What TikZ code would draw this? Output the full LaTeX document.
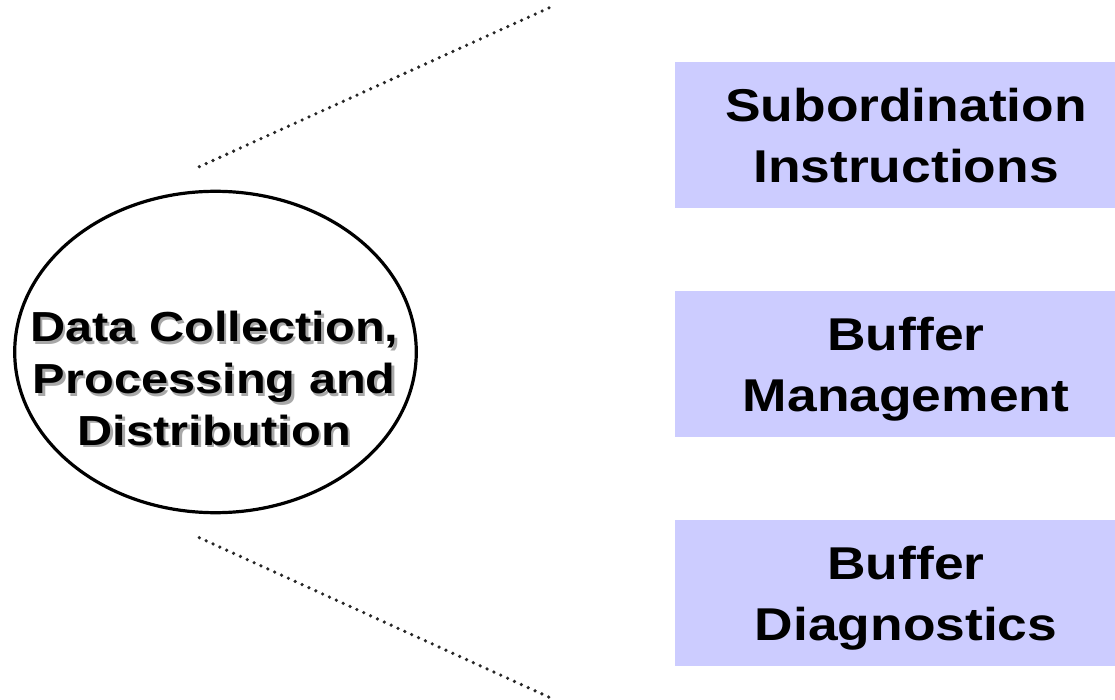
\documentclass[tikz,border=0pt]{standalone}
\usepackage{fontspec}
\usetikzlibrary{shapes.geometric}
\newfontfamily\labelfont[FakeStretch=1.16]{Liberation Sans Bold}
\definecolor{boxfill}{HTML}{CCCCFF}
\definecolor{dotgray}{HTML}{262626}
\definecolor{shadowgray}{HTML}{A8A8A8}
\begin{document}
\begin{tikzpicture}[x=1pt,y=-1pt,
  panel/.style={fill=boxfill, draw=none, minimum width=462pt, minimum height=146pt,
    inner sep=0pt, anchor=north west},
  boxlabel/.style={anchor=north, align=center, inner sep=0pt,
    font=\labelfont\fontsize{46}{61}\selectfont},
  hublabel/.style={anchor=north, align=center, inner sep=0pt,
    font=\labelfont\fontsize{42}{51.7}\selectfont},
  hubshape/.style={draw=black, ellipse, line width=3.2pt, fill=white,
    minimum width=401.6pt, minimum height=321.4pt, inner sep=0pt},
  leader/.style={draw=dotgray, line width=3.6pt, line cap=round,
    dash pattern=on 0pt off 7.53pt}]
\clip (0,0) rectangle (1115,700);

% right-hand panels
\node[panel] (p1) at (675,62)  {};
\node[panel] (p2) at (675,291) {};
\node[panel] (p3) at (675,520) {};
\node[boxlabel] (l1) at (906,86.5) {\rule{0pt}{.75em}Subordination\\Instructions};
\node[boxlabel] (l2) at (906,315.5) {\rule{0pt}{.75em}Buffer\\Management};
\node[boxlabel] (l3) at (906,545) {\rule{0pt}{.75em}Buffer\\Diagnostics};

% central ellipse with shadowed label
\node[hubshape] (hub) at (215.5,352) {};
\node[hublabel, text=shadowgray] (hubshadow) at (216.8,312.8)
  {\rule{0pt}{.75em}Data Collection,\\Processing and\\Distribution};
\node[hublabel] (hubtext) at (214.3,310.2)
  {\rule{0pt}{.75em}Data Collection,\\Processing and\\Distribution};

% dotted leaders
\coordinate (ta) at (199.3,166.7);
\coordinate (tb) at (549.3,7.7);
\coordinate (ba) at (199.3,537.7);
\coordinate (bb) at (549.3,697.3);
\draw[leader] (ta) -- (tb);
\draw[leader] (ba) -- (bb);
\end{tikzpicture}
\end{document}
